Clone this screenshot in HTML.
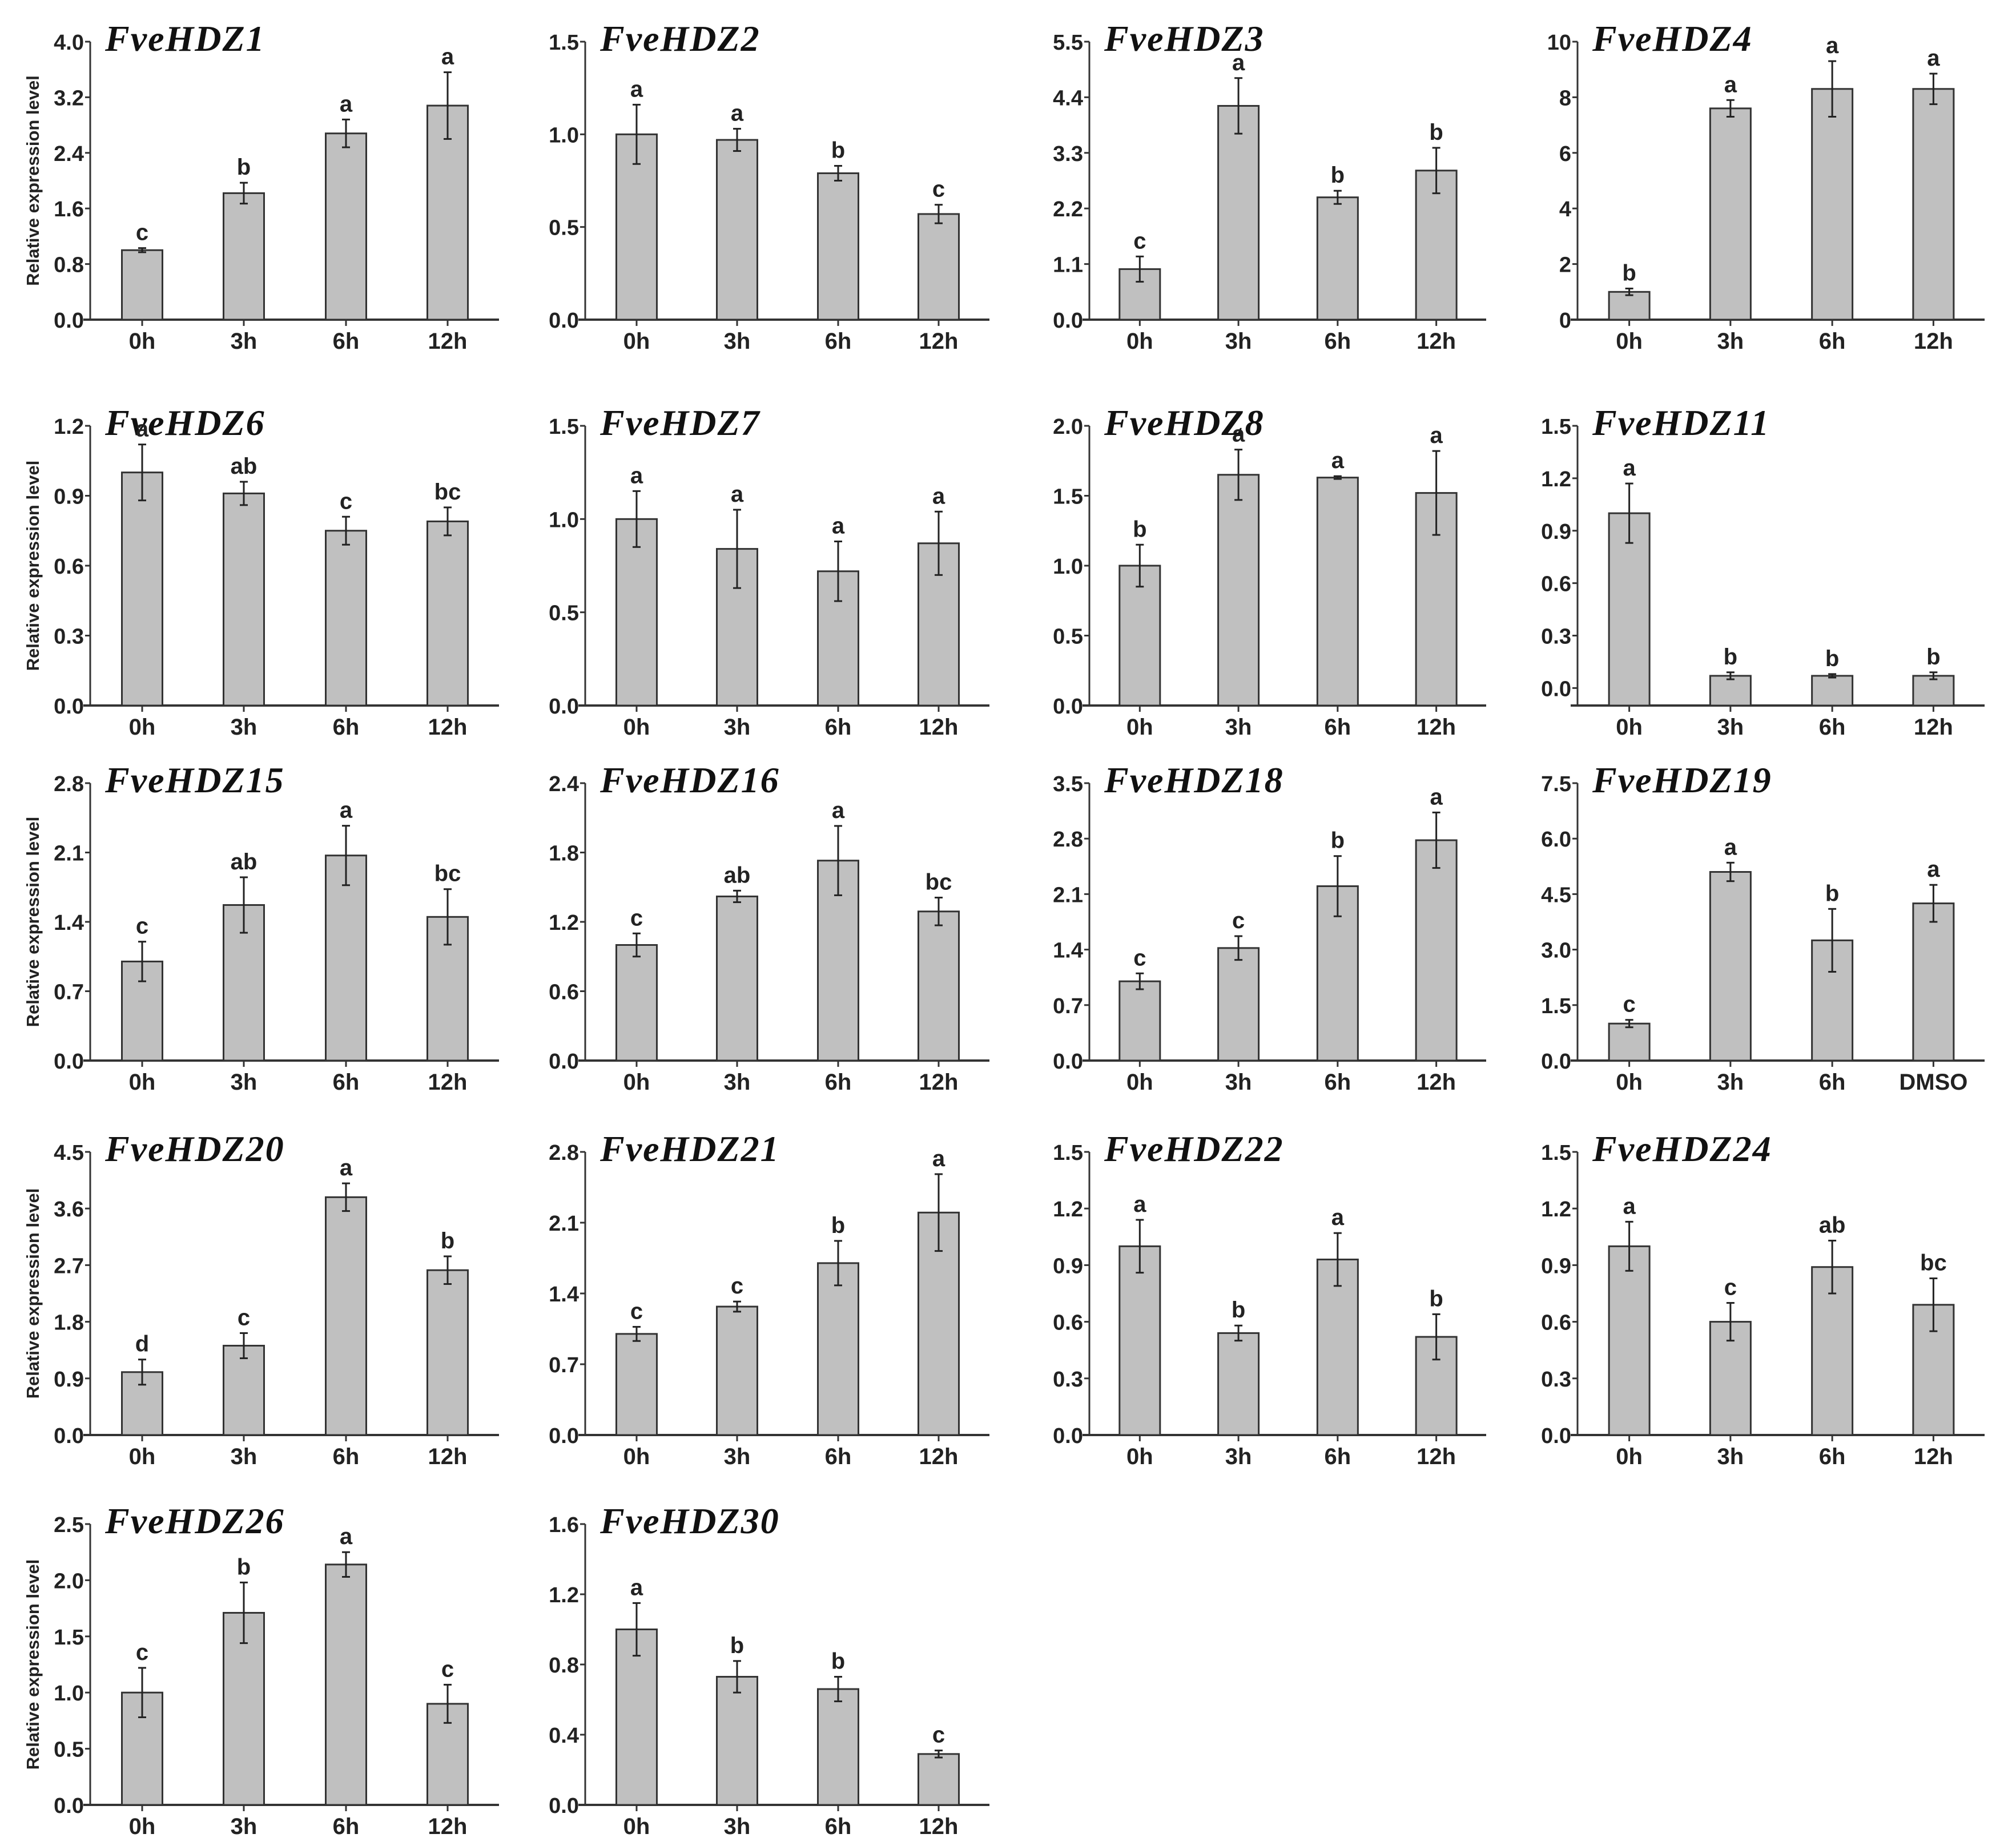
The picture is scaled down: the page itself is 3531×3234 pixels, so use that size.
<!DOCTYPE html>
<html>
<head>
<meta charset="utf-8">
<style>
  html,body{margin:0;padding:0;background:#fff;}
  svg{display:block;}
  .tick{font-family:"Liberation Sans",Arial,sans-serif;font-weight:bold;font-size:38px;fill:#222;}
  .xl{font-family:"Liberation Sans",Arial,sans-serif;font-weight:bold;font-size:40px;fill:#222;}
  .let{font-family:"Liberation Sans",Arial,sans-serif;font-weight:bold;font-size:40px;fill:#222;}
  .ttl{font-family:"Liberation Serif","Times New Roman",serif;font-weight:bold;font-style:italic;font-size:64px;letter-spacing:2px;fill:#111;}
  .yt{font-family:"Liberation Sans",Arial,sans-serif;font-weight:bold;font-size:31px;fill:#222;}
</style>
</head>
<body>
<svg id="fig" width="3531" height="3234" viewBox="0 0 3531 3234" xmlns="http://www.w3.org/2000/svg"></svg>
<script>
const genes = ["FveHDZ1","FveHDZ2","FveHDZ3","FveHDZ4","FveHDZ6","FveHDZ7","FveHDZ8","FveHDZ11","FveHDZ15","FveHDZ16","FveHDZ18","FveHDZ19","FveHDZ20","FveHDZ21","FveHDZ22","FveHDZ24","FveHDZ26","FveHDZ30"];
const yMax = [4.0,1.5,5.5,10,1.2,1.5,2.0,1.5,2.8,2.4,3.5,7.5,4.5,2.8,1.5,1.5,2.5,1.6];
const yMin = [0,0,0,0,0,0,0,-0.1,0,0,0,0,0,0,0,0,0,0];
const yStep = [0.8,0.5,1.1,2,0.3,0.5,0.5,0.3,0.7,0.6,0.7,1.5,0.9,0.7,0.3,0.3,0.5,0.4];
const tickDecimals = [1,1,1,0,1,1,1,1,1,1,1,1,1,1,1,1,1,1];
const timeLabels = ["0h","3h","6h","12h"];
const dmsoLabels = ["0h","3h","6h","DMSO"];
const means = [
  [1.0,1.82,2.68,3.08],
  [1.0,0.97,0.79,0.57],
  [1.0,4.23,2.42,2.95],
  [1.0,7.6,8.3,8.3],
  [1.0,0.91,0.75,0.79],
  [1.0,0.84,0.72,0.87],
  [1.0,1.65,1.63,1.52],
  [1.0,0.07,0.07,0.07],
  [1.0,1.57,2.07,1.45],
  [1.0,1.42,1.73,1.29],
  [1.0,1.42,2.2,2.78],
  [1.0,5.1,3.25,4.25],
  [1.0,1.42,3.78,2.62],
  [1.0,1.27,1.7,2.2],
  [1.0,0.54,0.93,0.52],
  [1.0,0.6,0.89,0.69],
  [1.0,1.71,2.14,0.9],
  [1.0,0.73,0.66,0.29]
];
const errors = [
  [0.03,0.15,0.2,0.48],
  [0.16,0.06,0.04,0.05],
  [0.25,0.55,0.13,0.45],
  [0.12,0.3,1.0,0.55],
  [0.12,0.05,0.06,0.06],
  [0.15,0.21,0.16,0.17],
  [0.15,0.18,0.01,0.3],
  [0.17,0.02,0.01,0.02],
  [0.2,0.28,0.3,0.28],
  [0.1,0.05,0.3,0.12],
  [0.1,0.15,0.38,0.35],
  [0.1,0.25,0.85,0.5],
  [0.2,0.2,0.22,0.22],
  [0.07,0.05,0.22,0.38],
  [0.14,0.04,0.14,0.12],
  [0.13,0.1,0.14,0.14],
  [0.22,0.27,0.11,0.17],
  [0.15,0.09,0.07,0.02]
];
const letters = [
  ["c","b","a","a"],["a","a","b","c"],["c","a","b","b"],["b","a","a","a"],
  ["a","ab","c","bc"],["a","a","a","a"],["b","a","a","a"],["a","b","b","b"],
  ["c","ab","a","bc"],["c","ab","a","bc"],["c","c","b","a"],["c","a","b","a"],
  ["d","c","a","b"],["c","c","b","a"],["a","b","a","b"],["a","c","ab","bc"],
  ["c","b","a","c"],["a","b","b","c"]
];

// layout
const colX = [158,1025,1908,2763];
const colLen = [716,708,695,713];
const rowTop = [73,746,1372,2018,2670];
const rowZero = [560,1236,1858,2514,3162];
const barOffsets = [91,269,448,626];
const barW = 71;
const NS = "http://www.w3.org/2000/svg";
const svg = document.getElementById("fig");

function mk(tag, attrs, parent){
  const e = document.createElementNS(NS, tag);
  for (const k in attrs) e.setAttribute(k, attrs[k]);
  parent.appendChild(e);
  return e;
}

genes.forEach((g, i) => {
  const r = Math.floor(i/4), c = i%4;
  const ax = colX[c], top = rowTop[r], bot = rowZero[r];
  const lo = yMin[i], hi = yMax[i];
  const yS = v => bot - (v - lo)/(hi - lo)*(bot - top);
  const xS = k => ax + barOffsets[k]*(colLen[c]/716);
  const grp = mk("g", {}, svg);
  
  

  const t = mk("text", {x: ax+26, y: top+16, class:"ttl"}, grp);
  t.textContent = g;
  
  

  const ya = mk("line", {x1:ax, y1:top, x2:ax, y2:bot, stroke:"#333", "stroke-width":3}, grp);
  
  
  const nT = Math.round(hi/yStep[i]);
  for (let k=0;k<=nT;k++){
    const v = k*yStep[i];
    const y = yS(v);
    mk("line", {x1:ax-9, y1:y, x2:ax, y2:y, stroke:"#333", "stroke-width":3}, grp);
    const tl = mk("text", {x:ax-11, y:y+14, "text-anchor":"end", class:"tick"}, grp);
    tl.textContent = v.toFixed(tickDecimals[i]);
    
    
  }
  const xa = mk("line", {x1:ax-12, y1:bot, x2:ax+colLen[c], y2:bot, stroke:"#333", "stroke-width":4}, grp);
  
  

  const labs = (i===11) ? dmsoLabels : timeLabels;
  means[i].forEach((m, k) => {
    const cx = xS(k);
    const yt = yS(m);
    const bar = mk("rect", {x:cx-barW/2, y:yt, width:barW, height:bot-yt, fill:"#c0c0c0", stroke:"#333", "stroke-width":3}, grp);
    
    
    const e = errors[i][k];
    const eTop = yS(m+e), eBot = yS(m-e);
    const eb = mk("g", {stroke:"#222", "stroke-width":3}, grp);
    
    
    mk("line", {x1:cx, y1:eTop, x2:cx, y2:eBot}, eb);
    mk("line", {x1:cx-7, y1:eTop, x2:cx+7, y2:eTop}, eb);
    mk("line", {x1:cx-7, y1:eBot, x2:cx+7, y2:eBot}, eb);
    const lt = mk("text", {x:cx, y:eTop-14, "text-anchor":"middle", class:"let"}, grp);
    lt.textContent = letters[i][k];
    
    
    mk("line", {x1:cx, y1:bot, x2:cx, y2:bot+11, stroke:"#333", "stroke-width":3}, grp);
    const xl = mk("text", {x:cx, y:bot+51, "text-anchor":"middle", class:"xl"}, grp);
    xl.textContent = labs[k];
    
    
  });

  if (c===0){
    const cy = (top+bot)/2;
    const yt = mk("text", {x:0, y:0, "text-anchor":"middle", class:"yt", transform:"translate(68,"+cy+") rotate(-90)"}, grp);
    yt.textContent = "Relative expression level";
    
    
  }
});
</script>
</body>
</html>
